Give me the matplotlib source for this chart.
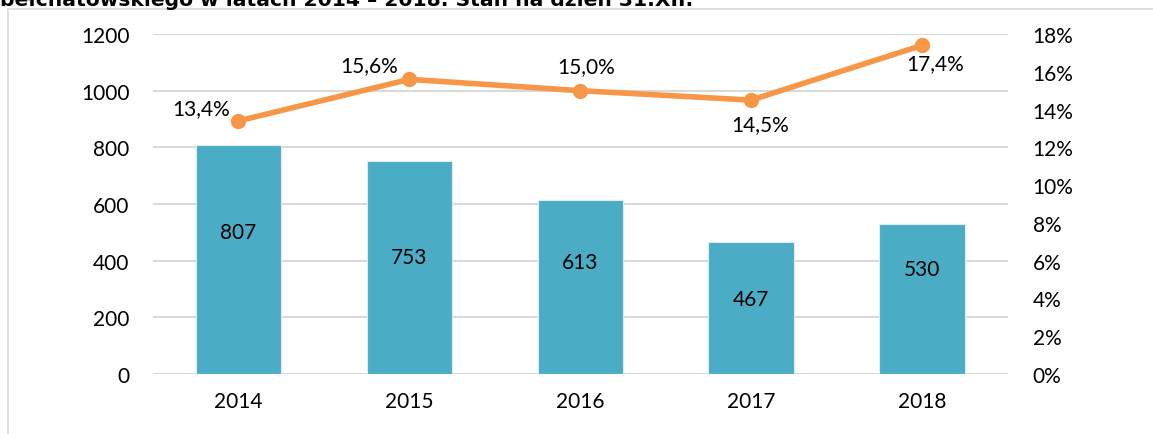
import matplotlib
matplotlib.use("Agg")
import matplotlib.pyplot as plt
from matplotlib.lines import Line2D

years = ["2014", "2015", "2016", "2017", "2018"]
counts = [807, 753, 613, 467, 530]
share = [13.4, 15.6, 15.0, 14.5, 17.4]
share_labels = ["13,4%", "15,6%", "15,0%", "14,5%", "17,4%"]
# where the count labels sit inside the bars (data units, as in the source)
count_label_y = [501, 413, 395, 265, 371]
# offsets of the percent labels from their points (points)
share_offsets = [(-27, 9), (-29, 10), (4, 18), (6.5, -17), (9.5, -13)]

title = "bełchatowskiego w latach 2014 – 2018. Stan na dzień 31.XII."

plt.rcParams["font.family"] = ["Lato", "DejaVu Sans"]
fs = 15

fig = plt.figure(figsize=(11.53, 4.35), dpi=100)
fig.patch.set_facecolor("white")

# outer frame (only top and left edges visible in the crop)
grey = "#d9d9d9"
fig.add_artist(Line2D([8 / 1153, 1], [1 - 10 / 435, 1 - 10 / 435], color=grey, lw=1.2,
                      transform=fig.transFigure))
fig.add_artist(Line2D([8 / 1153, 8 / 1153], [0, 1 - 10 / 435], color=grey, lw=1.2,
                      transform=fig.transFigure))

# cut-off title above the frame
fig.text(0.0, 1 - 6 / 435, title, fontsize=14.6, fontweight="bold",
         family=["DejaVu Sans"], ha="left", va="baseline")

ax = fig.add_axes([153 / 1153, 1 - 375 / 435, (1007.5 - 153) / 1153, 340 / 435])
x = list(range(len(years)))

ax.bar(x, counts, width=0.5, color="#4bacc6", edgecolor="#dcecf2", linewidth=0.8, zorder=2)
for xi, c, ly in zip(x, counts, count_label_y):
    ax.text(xi, ly, str(c), ha="center", va="center", fontsize=fs, color="#000000", zorder=3)

ax.set_xlim(-0.5, len(years) - 0.5)
ax.set_ylim(0, 1200)
ax.set_yticks(range(0, 1201, 200))
ax.set_xticks(x)
ax.set_xticklabels(years)
ax.grid(axis="y", color=grey, lw=1.5, zorder=0)
ax.set_axisbelow(True)
for s in ax.spines.values():
    s.set_visible(False)
ax.tick_params(axis="both", length=0, labelsize=fs, colors="#000000")
ax.tick_params(axis="y", pad=17)
ax.tick_params(axis="x", pad=12)

ax2 = ax.twinx()
ax2.plot(x, share, color="#f79646", lw=4, marker="o", markersize=10, zorder=4,
         solid_capstyle="round")
for xi, v, lab, off in zip(x, share, share_labels, share_offsets):
    ax2.annotate(lab, (xi, v), xytext=off, textcoords="offset points",
                 ha="center", va="center", fontsize=fs, color="#000000")
ax2.set_ylim(0, 18)
ax2.set_yticks(range(0, 19, 2))
ax2.set_yticklabels([f"{t}%" for t in range(0, 19, 2)])
for s in ax2.spines.values():
    s.set_visible(False)
ax2.tick_params(axis="y", length=0, labelsize=fs, colors="#000000", pad=18)

fig.savefig("out.png", dpi=100, facecolor="white")
